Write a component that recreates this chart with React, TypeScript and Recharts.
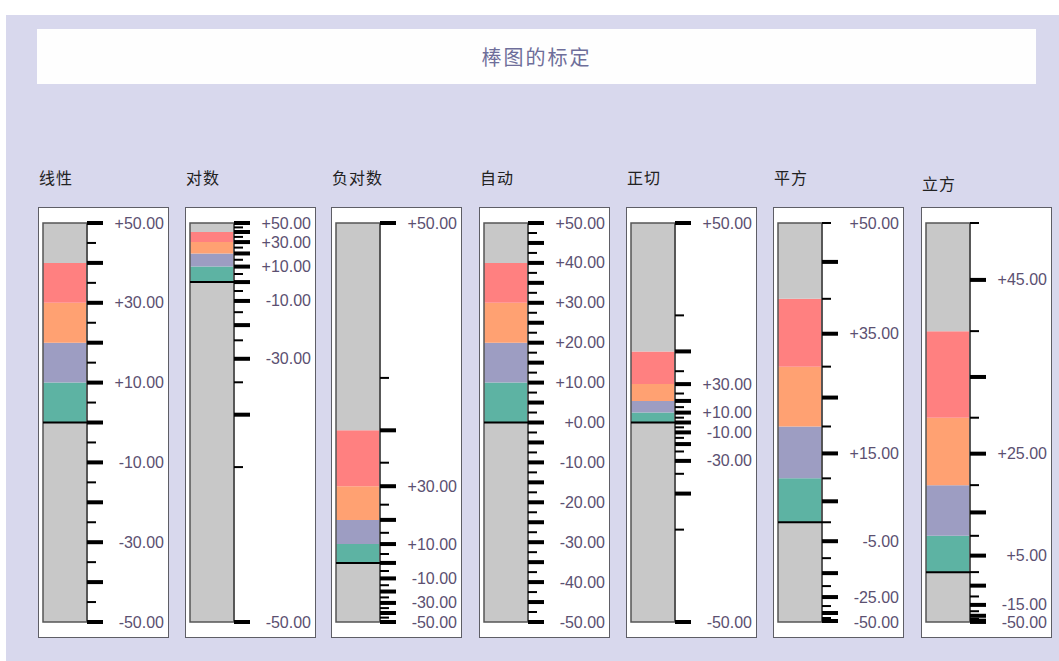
import React from 'react';
import { BarChart, Bar, XAxis, YAxis, ReferenceLine, ReferenceArea } from 'recharts';

// ---------- data ----------
const chartTitle = '棒图的标定';
const panelNames = ['线性', '对数', '负对数', '自动', '正切', '平方', '立方'];
const scaleKinds = ['linear', 'log', 'negLog', 'auto', 'tan', 'square', 'cube'];
const domainMin = -50;
const domainMax = 50;
// stacked segment boundaries: gray below, then 0-10, 10-20, 20-30, 30-40, gray above
const segmentBounds = [-50, 0, 10, 20, 30, 40, 50];
const segmentColors = ['#c8c8c8', '#5db3a3', '#9d9dc2', '#ffa172', '#ff8080', '#c8c8c8'];
const baselineValue = 0;

const ticksStep5 = [50, 45, 40, 35, 30, 25, 20, 15, 10, 5, 0, -5, -10, -15, -20, -25, -30, -35, -40, -45, -50];
const ticksStep2p5 = [
  50, 47.5, 45, 42.5, 40, 37.5, 35, 32.5, 30, 27.5, 25, 22.5, 20, 17.5, 15, 12.5, 10, 7.5, 5, 2.5, 0,
  -2.5, -5, -7.5, -10, -12.5, -15, -17.5, -20, -22.5, -25, -27.5, -30, -32.5, -35, -37.5, -40, -42.5, -45, -47.5, -50,
];
const majorTens = [50, 40, 30, 20, 10, 0, -10, -20, -30, -40, -50];
const majorFives = [50, 45, 40, 35, 30, 25, 20, 15, 10, 5, 0, -5, -10, -15, -20, -25, -30, -35, -40, -45, -50];
const majorOddFives = [45, 35, 25, 15, 5, -5, -15, -25, -35, -45];

const labelsTwenty = [50, 30, 10, -10, -30, -50];
const labelsAuto = [50, 40, 30, 20, 10, 0, -10, -20, -30, -40, -50];
const labelsSquare = [50, 35, 15, -5, -25, -50];
const labelsCube = [45, 25, 5, -15, -50];

const panelTicks = [ticksStep5, ticksStep5, ticksStep5, ticksStep2p5, ticksStep5, ticksStep5, ticksStep5];
const panelMajor = [majorTens, majorTens, majorTens, majorFives, majorTens, majorOddFives, majorOddFives];
const panelLabels = [labelsTwenty, labelsTwenty, labelsTwenty, labelsAuto, labelsTwenty, labelsSquare, labelsCube];

// ---------- scale transforms ----------
function rawScale(kind: string, v: number): number {
  switch (kind) {
    case 'log':
      return Math.log(v + 51);
    case 'negLog':
      return -Math.log(51 - v);
    case 'tan':
      return Math.tan((v / 50) * 1.4);
    case 'square':
      return Math.pow(v + 50, 2);
    case 'cube':
      return Math.pow(v + 50, 3);
    default:
      return v;
  }
}
function norm(kind: string, v: number): number {
  const a = rawScale(kind, domainMin);
  const b = rawScale(kind, domainMax);
  return (rawScale(kind, v) - a) / (b - a);
}

const fmt = (v: number) => (v >= 0 ? '+' : '') + v.toFixed(2);

// ---------- layout ----------
const boxLefts = [38, 185, 331, 479, 626, 773, 921];
const boxTop = 207;
const boxW = 131;
const boxH = 431;

function Panel({ idx }: { idx: number }) {
  const kind = scaleKinds[idx];
  const row: any = { name: panelNames[idx] };
  for (let i = 0; i < segmentColors.length; i++) {
    row['s' + i] = norm(kind, segmentBounds[i + 1]) - norm(kind, segmentBounds[i]);
  }
  const data = [row];
  const tickVals = panelTicks[idx];
  const tickNorms = tickVals.map((t) => norm(kind, t));
  const major = panelMajor[idx];
  const labels = panelLabels[idx];

  const renderTick = (props: any) => {
    const { x, y, payload } = props;
    let best = tickVals[0];
    let bd = Infinity;
    for (const t of tickVals) {
      const d = Math.abs(norm(kind, t) - payload.value);
      if (d < bd) {
        bd = d;
        best = t;
      }
    }
    const isMajor = major.includes(best);
    const hasLabel = labels.includes(best);
    return (
      <g>
        <line x1={x} x2={x + (isMajor ? 16 : 9)} y1={y} y2={y} stroke="#000" strokeWidth={isMajor ? 4 : 2} />
        {hasLabel && (
          <text
            x={x + 77}
            y={y}
            textAnchor="end"
            dominantBaseline="central"
            fontFamily="'Liberation Sans', Arial, sans-serif"
            fontSize={16}
            fill="#5b5071"
          >
            {fmt(best)}
          </text>
        )}
      </g>
    );
  };

  return (
    <div
      style={{
        position: 'absolute',
        left: boxLefts[idx],
        top: boxTop,
        width: boxW,
        height: boxH,
        boxSizing: 'border-box',
        border: '1px solid #5e5e66',
        background: '#ffffff',
      }}
    >
      <BarChart
        width={boxW - 2}
        height={boxH - 2}
        data={data}
        margin={{ top: 15, right: 0, bottom: 15, left: 4 }}
        barCategoryGap={0}
        barGap={0}
      >
        <XAxis dataKey="name" hide />
        <YAxis
          orientation="right"
          type="number"
          domain={[0, 1]}
          ticks={tickNorms}
          interval={0}
          tickSize={0}
          tickMargin={0}
          tickLine={false}
          tick={renderTick}
          width={81}
          axisLine={{ stroke: '#333', strokeWidth: 1.5 }}
          allowDataOverflow
        />
        {segmentColors.map((c, i) => (
          <Bar key={i} dataKey={'s' + i} stackId="a" fill={c} isAnimationActive={false} />
        ))}
        <ReferenceArea
          y1={0}
          y2={1}
          fill="none"
          fillOpacity={0}
          stroke="#555"
          strokeWidth={1.5}
          ifOverflow="visible"
          {...({ zIndex: 700 } as any)}
        />
        <ReferenceLine y={norm(kind, baselineValue)} stroke="#000" strokeWidth={2} {...({ zIndex: 800 } as any)} />
      </BarChart>
    </div>
  );
}

export default function App() {
  return (
    <div
      style={{
        position: 'absolute',
        left: 0,
        top: 0,
        width: 1059,
        height: 661,
        background: '#ffffff',
        overflow: 'hidden',
      }}
    >
      <div
        style={{
          position: 'absolute',
          left: 6,
          top: 15,
          width: 1053,
          height: 646,
          background: '#d8d8ed',
        }}
      />
      <div
        style={{
          position: 'absolute',
          left: 37,
          top: 29,
          width: 999,
          height: 55,
          background: '#fefefe',
          display: 'flex',
          alignItems: 'center',
          justifyContent: 'center',
          fontFamily: "'Noto Sans CJK SC', sans-serif",
          fontSize: 20,
          letterSpacing: 2,
          color: '#6e6e9a',
        }}
      >
        {chartTitle}
      </div>
      {panelNames.map((n, i) => (
        <div
          key={'lbl' + i}
          style={{
            position: 'absolute',
            left: boxLefts[i] + 1,
            top: i === 6 ? 171 : 165,
            fontFamily: "'Noto Sans CJK SC', sans-serif",
            fontSize: 16,
            letterSpacing: 1,
            color: '#222',
            lineHeight: '24px',
          }}
        >
          {n}
        </div>
      ))}
      {panelNames.map((_, i) => (
        <Panel key={i} idx={i} />
      ))}
    </div>
  );
}
